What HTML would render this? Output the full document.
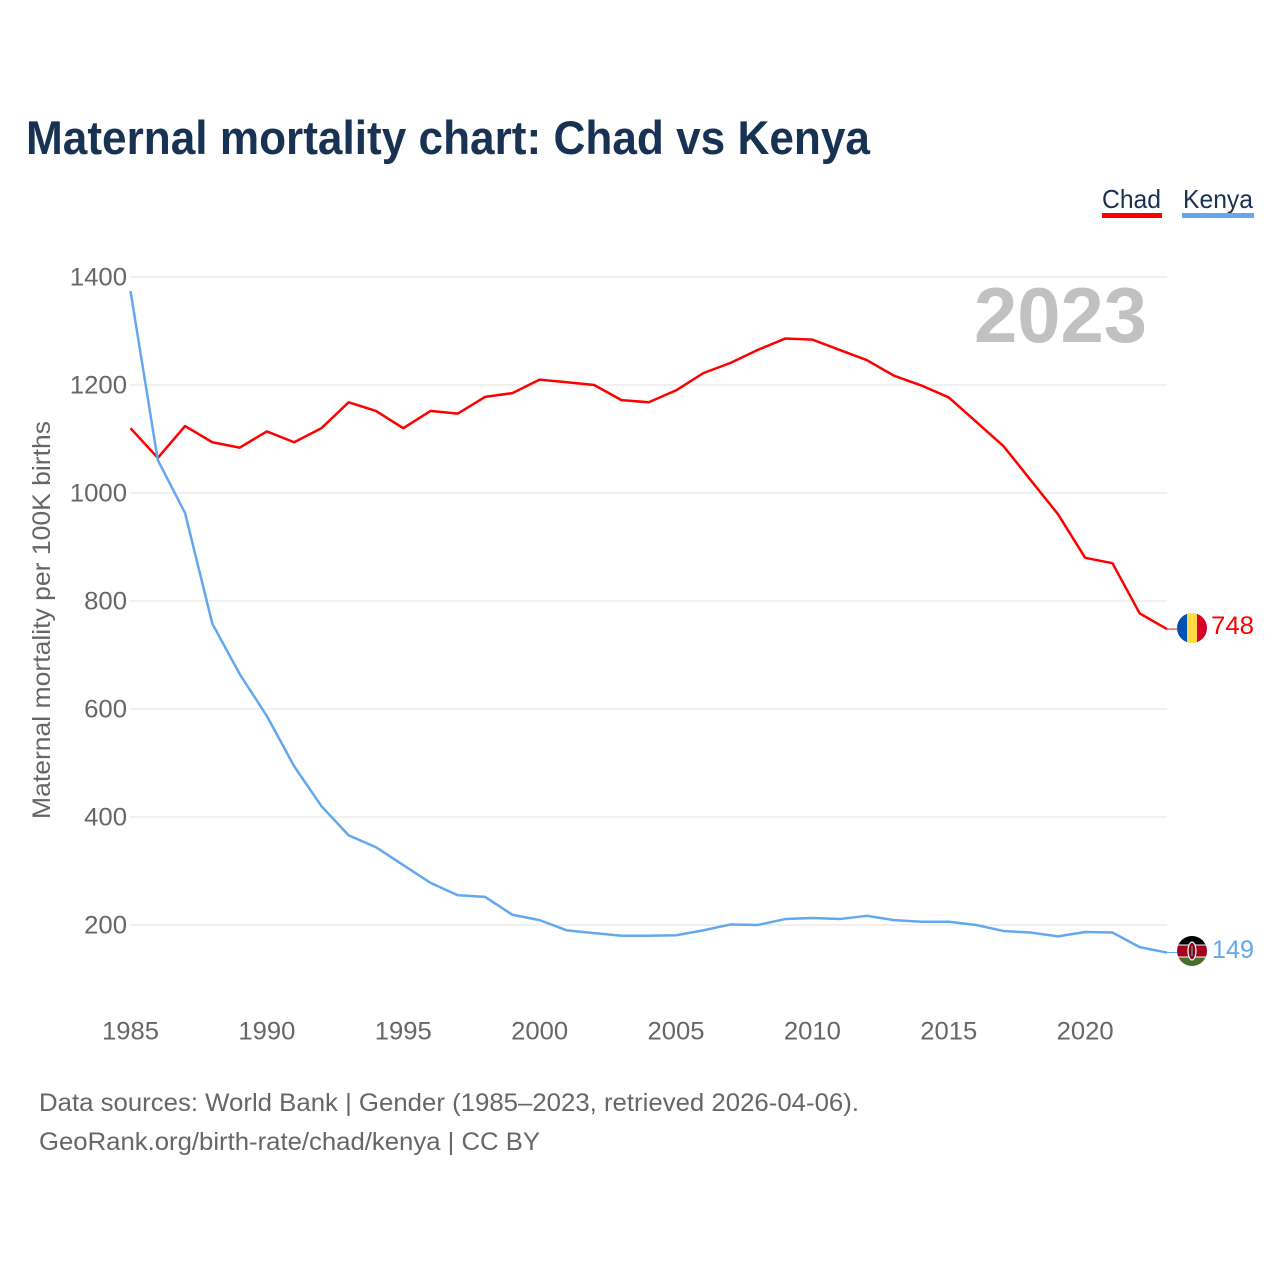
<!DOCTYPE html>
<html lang="en">
<head>
<meta charset="utf-8">
<title>Maternal mortality chart: Chad vs Kenya</title>
<style>
html,body{margin:0;padding:0;background:#fff;width:1280px;height:1280px;overflow:hidden}
svg{display:block}
text{font-family:"Liberation Sans",sans-serif}
</style>
</head>
<body>
<svg id="chart" xmlns="http://www.w3.org/2000/svg" width="1280" height="1280" viewBox="0 0 1280 1280">
  <defs>
    <clipPath id="clip-chad"><circle cx="1192" cy="628" r="15"/></clipPath>
    <clipPath id="clip-kenya"><circle cx="1192" cy="951" r="15"/></clipPath>
  </defs>
  <rect x="0" y="0" width="1280" height="1280" fill="#fff"/>
  <text x="26" y="154" font-size="47" font-weight="700" fill="#183253" textLength="844" lengthAdjust="spacingAndGlyphs">Maternal mortality chart: Chad vs Kenya</text>

  <g>
    <g>
      <text x="1102" y="208" font-size="26" fill="#1a3152" textLength="59" lengthAdjust="spacingAndGlyphs">Chad</text>
      <rect x="1102" y="213" width="60" height="5" fill="#ff0000"/>
    </g>
    <g>
      <text x="1183" y="208" font-size="26" fill="#1a3152" textLength="70" lengthAdjust="spacingAndGlyphs">Kenya</text>
      <rect x="1182" y="213" width="72" height="5" fill="#63a8ee"/>
    </g>
  </g>

  <g id="grid"></g>
  <g id="y-ticks"></g>
  <g id="x-ticks"></g>

  <text x="974" y="342" font-size="78" font-weight="700" fill="#c1c1c1" textLength="173" lengthAdjust="spacingAndGlyphs">2023</text>

  <text transform="translate(50,620) rotate(-90)" text-anchor="middle" font-size="25" fill="#666666" textLength="398" lengthAdjust="spacingAndGlyphs">Maternal mortality per 100K births</text>

  <line id="leader-chad" stroke="#ff0000" stroke-width="1"/>
  <line id="leader-kenya" stroke="#63a8ee" stroke-width="1"/>
  <polyline id="line-chad" fill="none" stroke="#ff0000" stroke-width="2.5" stroke-linejoin="round"/>
  <polyline id="line-kenya" fill="none" stroke="#63a8ee" stroke-width="2.5" stroke-linejoin="round"/>

  <g clip-path="url(#clip-chad)">
    <rect x="1177" y="613" width="10" height="30" fill="#0052b4"/>
    <rect x="1187" y="613" width="10" height="30" fill="#ffda44"/>
    <rect x="1197" y="613" width="10" height="30" fill="#d80027"/>
  </g>
  <text id="value-chad" x="1211" y="634" font-size="25" fill="#ff0000" textLength="43" lengthAdjust="spacingAndGlyphs"></text>

  <g clip-path="url(#clip-kenya)">
    <rect x="1177" y="936" width="30" height="30" fill="#ffffff"/>
    <rect x="1177" y="936" width="30" height="8.5" fill="#000000"/>
    <rect x="1177" y="945.5" width="30" height="11" fill="#a2001d"/>
    <rect x="1177" y="957.5" width="30" height="8.5" fill="#496e2d"/>
    <ellipse cx="1192" cy="951" rx="4.6" ry="9.5" fill="#ffffff"/>
    <ellipse cx="1192" cy="951" rx="3.4" ry="8.3" fill="#a2001d"/>
    <ellipse cx="1192" cy="951" rx="1.5" ry="6" fill="#111111"/>
    <rect x="1191.6" y="946" width="0.8" height="10" fill="#ffffff"/>
  </g>
  <text id="value-kenya" x="1212" y="958" font-size="25" fill="#63a8ee" textLength="42" lengthAdjust="spacingAndGlyphs"></text>

  <text x="39" y="1111" font-size="25" fill="#666666" textLength="820" lengthAdjust="spacingAndGlyphs">Data sources: World Bank | Gender (1985–2023, retrieved 2026-04-06).</text>
  <text x="39" y="1150" font-size="25" fill="#666666" textLength="501" lengthAdjust="spacingAndGlyphs">GeoRank.org/birth-rate/chad/kenya | CC BY</text>
</svg>
<script>
const years = [1985,1986,1987,1988,1989,1990,1991,1992,1993,1994,1995,1996,1997,1998,1999,2000,2001,2002,2003,2004,2005,2006,2007,2008,2009,2010,2011,2012,2013,2014,2015,2016,2017,2018,2019,2020,2021,2022,2023];
const chadValues = [1120,1065,1124,1094,1084,1114,1094,1120,1168,1152,1120,1152,1147,1178,1185,1210,1205,1200,1172,1168,1190,1222,1241,1265,1286,1284,1265,1246,1217,1199,1177,1132,1087,1024,961,880,870,777,748];
const kenyaValues = [1374,1061,963,758,665,587,494,420,366,344,311,278,255,252,219,209,190,185,180,180,181,190,201,200,211,213,211,217,209,206,206,200,189,186,179,187,186,159,149];
const yTickValues = [200,400,600,800,1000,1200,1400];
const xTickValues = [1985,1990,1995,2000,2005,2010,2015,2020];

function xScale(year) {
  return 130.5 + (year - 1985) * (1167 - 130.5) / (2023 - 1985);
}
function yScale(value) {
  return 277 + (1400 - value) * (925 - 277) / (1400 - 200);
}

const SVG_NS = 'http://www.w3.org/2000/svg';
const gridGroup = document.getElementById('grid');
const yTickGroup = document.getElementById('y-ticks');
const xTickGroup = document.getElementById('x-ticks');

yTickValues.forEach(function (v) {
  const line = document.createElementNS(SVG_NS, 'line');
  
  
  line.setAttribute('x1', 130);
  line.setAttribute('x2', 1167);
  line.setAttribute('y1', yScale(v));
  line.setAttribute('y2', yScale(v));
  line.setAttribute('stroke', '#ebebeb');
  line.setAttribute('stroke-width', '1.5');
  gridGroup.appendChild(line);

  const label = document.createElementNS(SVG_NS, 'text');
  
  
  label.setAttribute('x', 127);
  label.setAttribute('y', yScale(v) + 8.6);
  label.setAttribute('text-anchor', 'end');
  label.setAttribute('font-size', '25');
  label.setAttribute('fill', '#666666');
  label.setAttribute('textLength', String(v).length * 14.3);
  label.setAttribute('lengthAdjust', 'spacingAndGlyphs');
  label.textContent = v;
  yTickGroup.appendChild(label);
});

xTickValues.forEach(function (y) {
  const label = document.createElementNS(SVG_NS, 'text');
  
  
  label.setAttribute('x', xScale(y));
  label.setAttribute('y', 1039.5);
  label.setAttribute('text-anchor', 'middle');
  label.setAttribute('font-size', '25');
  label.setAttribute('fill', '#666666');
  label.setAttribute('textLength', 57);
  label.setAttribute('lengthAdjust', 'spacingAndGlyphs');
  label.textContent = y;
  xTickGroup.appendChild(label);
});

function toPoints(values) {
  return values.map(function (v, i) {
    return xScale(years[i]).toFixed(2) + ',' + yScale(v).toFixed(2);
  }).join(' ');
}
function placeLeader(id, values) {
  const last = values[values.length - 1];
  const leader = document.getElementById(id);
  leader.setAttribute('x1', xScale(years[years.length - 1]));
  leader.setAttribute('x2', 1177);
  leader.setAttribute('y1', yScale(last));
  leader.setAttribute('y2', yScale(last));
}
document.getElementById('line-chad').setAttribute('points', toPoints(chadValues));
document.getElementById('line-kenya').setAttribute('points', toPoints(kenyaValues));
placeLeader('leader-chad', chadValues);
placeLeader('leader-kenya', kenyaValues);
document.getElementById('value-chad').textContent = chadValues[chadValues.length - 1];
document.getElementById('value-kenya').textContent = kenyaValues[kenyaValues.length - 1];
</script>
</body>
</html>
